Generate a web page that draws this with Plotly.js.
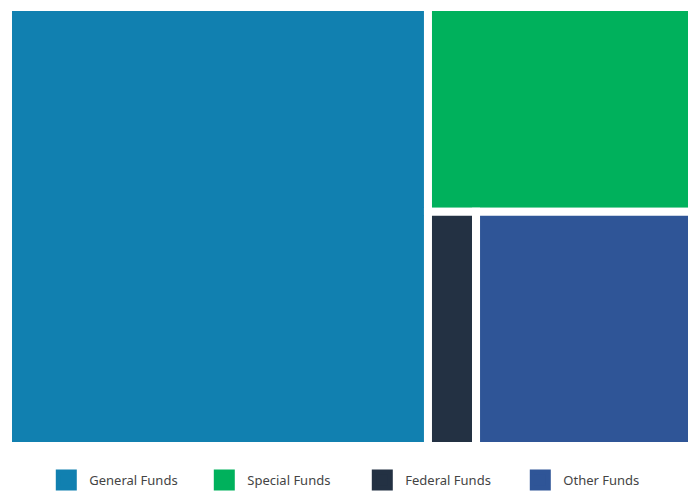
<!DOCTYPE html>
<html>
<head>
<meta charset="utf-8">
<script src="https://cdn.plot.ly/plotly-3.0.1.min.js"></script>
<style>html,body{margin:0;padding:0;background:#fff;}#chart{width:696px;height:495px;}</style>
</head>
<body>
<div id="chart"></div>
<script>
const categories = ["General Funds", "Special Funds", "Federal Funds", "Other Funds"];
const values = [614, 180, 37.5, 168.5];
const colors = ["#1180b0", "#00b15c", "#233143", "#2f5597"];

const treemap = {
  type: "treemap",
  labels: categories,
  parents: categories.map(() => ""),
  values: values,
  sort: false,
  textinfo: "none",
  hoverinfo: "label+value",
  marker: {
    colors: colors,
    line: {color: "#ffffff", width: 8},
    pad: {t: 0, l: 0, r: 0, b: 0}
  },
  root: {color: "#ffffff"},
  pathbar: {visible: false},
  tiling: {packing: "squarify", pad: 0},
  showlegend: false,
  domain: {x: [0, 1], y: [0, 1]}
};

const legendTraces = categories.map((c, i) => ({
  type: "scatter",
  mode: "markers",
  x: [null],
  y: [null],
  name: c,
  marker: {symbol: "square", size: 16, color: colors[i], line: {color: colors[i], width: 5}},
  showlegend: true,
  hoverinfo: "skip"
}));

const layout = {
  width: 696,
  height: 495,
  margin: {l: 8, r: 4, t: 7, b: 49},
  paper_bgcolor: "#ffffff",
  plot_bgcolor: "#ffffff",
  xaxis: {visible: false},
  yaxis: {visible: false},
  showlegend: true,
  legend: {
    orientation: "h",
    x: 0.0622, xref: "container", xanchor: "left",
    y: 0, yref: "container", yanchor: "bottom",
    entrywidth: 107, entrywidthmode: "pixels",
    itemwidth: 36,
    font: {family: "Noto Sans, Open Sans, sans-serif", size: 13, color: "#444444"},
    itemsizing: "trace"
  },
  font: {family: "Noto Sans, Open Sans, sans-serif"}
};

Plotly.newPlot("chart", [treemap].concat(legendTraces), layout, {displayModeBar: false, staticPlot: true});
</script>
</body>
</html>
